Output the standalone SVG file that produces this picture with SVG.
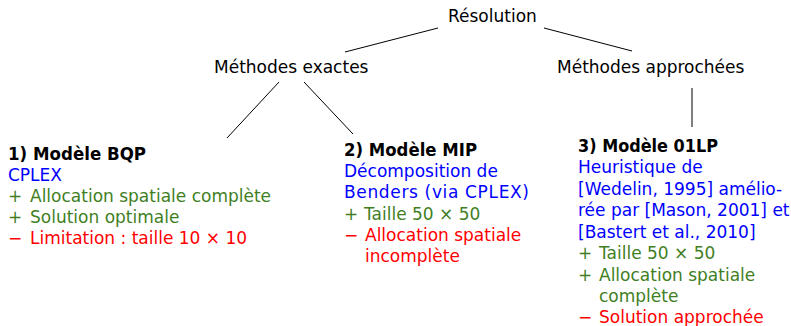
<svg xmlns="http://www.w3.org/2000/svg" width="791" height="326" viewBox="0 0 791 326">
  <style>
    text { font-family: "DejaVu Sans", "Liberation Sans", sans-serif; font-size: 17px; fill: #000; }
    .title { font-weight: bold; }
    .blue { fill: #0000ff; }
    .green { fill: #3f7f1f; }
    .red { fill: #ff0000; }
    .edge { stroke: #000; stroke-width: 1; fill: none; }
  </style>
  <rect width="791" height="326" fill="#fff"/>

  <!-- tree edges -->
  <g id="connectors">
    <line class="edge" x1="438" y1="28" x2="345" y2="52"/>
    <line class="edge" x1="544" y1="28" x2="632" y2="51"/>
    <line class="edge" x1="279" y1="82" x2="227" y2="138"/>
    <line class="edge" x1="304" y1="82" x2="353" y2="134"/>
    <line class="edge" x1="692" y1="88" x2="692" y2="127"/>
  </g>

  <g id="root">
    <text x="448" y="22">Résolution</text>
  </g>

  <g id="exactes">
    <text x="214" y="73">Méthodes exactes</text>
  </g>

  <g id="approchees">
    <text x="557" y="73">Méthodes approchées</text>
  </g>

  <!-- 1) BQP model -->
  <g id="bqp">
    <text class="title" x="8" y="160" textLength="138" lengthAdjust="spacingAndGlyphs">1) Modèle BQP</text>
    <text class="blue" x="8" y="181">CPLEX</text>
    <text class="green" x="8" y="202">+<tspan x="30">Allocation spatiale complète</tspan></text>
    <text class="green" x="8" y="223">+<tspan x="30">Solution optimale</tspan></text>
    <text class="red" x="8" y="244">−<tspan x="30">Limitation : taille 10 × 10</tspan></text>
  </g>

  <!-- 2) MIP model -->
  <g id="mip">
    <text class="title" x="344" y="156" textLength="133" lengthAdjust="spacingAndGlyphs">2) Modèle MIP</text>
    <text class="blue" x="344" y="177">Décomposition de</text>
    <text class="blue" x="344" y="198" textLength="185" lengthAdjust="spacing">Benders (via CPLEX)</text>
    <text class="green" x="344" y="220">+<tspan x="364">Taille 50 × 50</tspan></text>
    <text class="red" x="344" y="241">−<tspan x="365">Allocation spatiale</tspan></text>
    <text class="red" x="365" y="262">incomplète</text>
  </g>

  <!-- 3) 01LP model -->
  <g id="lp01">
    <text class="title" x="578" y="152" textLength="140" lengthAdjust="spacingAndGlyphs">3) Modèle 01LP</text>
    <text class="blue" x="578" y="173">Heuristique de</text>
    <text class="blue" x="578" y="195">[Wedelin, 1995] amélio-</text>
    <text class="blue" x="578" y="216">rée par [Mason, 2001] et</text>
    <text class="blue" x="578" y="238">[Bastert et al., 2010]</text>
    <text class="green" x="578" y="259">+<tspan x="599">Taille 50 × 50</tspan></text>
    <text class="green" x="578" y="280.5">+<tspan x="599">Allocation spatiale</tspan></text>
    <text class="green" x="599" y="302">complète</text>
    <text class="red" x="578" y="323">−<tspan x="599">Solution approchée</tspan></text>
  </g>
</svg>
